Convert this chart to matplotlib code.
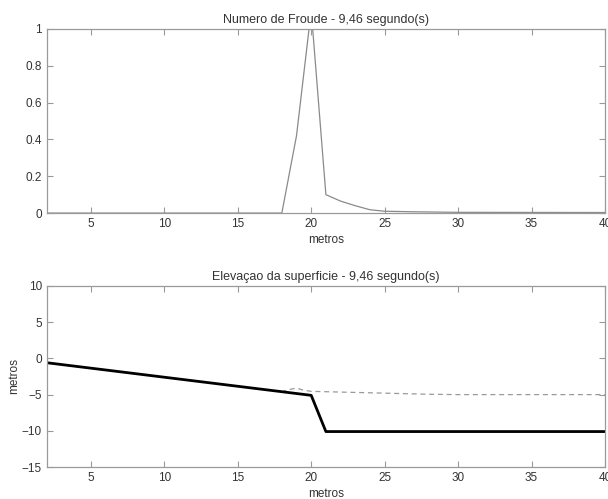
import matplotlib
matplotlib.use("Agg")
import matplotlib.pyplot as plt

## Froude number along the channel
x_froude = [2, 18, 19, 20, 21, 22, 23, 24, 25, 27, 30, 40]
froude = [0, 0, 0.42, 1.1, 0.1, 0.065, 0.04, 0.018, 0.01, 0.007, 0.004, 0.003]

## bed and water surface elevation
x_bed = [2, 20, 21, 40]
z_bed = [-0.6, -5.1, -10.1, -10.1]

x_surf = [2, 18, 18.5, 19, 19.5, 20, 21, 23, 25, 28, 30, 40]
z_surf = [-0.6, -4.6, -4.3, -4.1, -4.4, -4.55, -4.6, -4.7, -4.8, -4.95, -5.0, -5.0]

plt.rcParams["font.family"] = ["Liberation Sans", "DejaVu Sans"]
FS = 8.5

fig = plt.figure(figsize=(6.08, 4.99), dpi=100)
ax1 = fig.add_axes([0.077, 0.573, 0.918, 0.369])
ax2 = fig.add_axes([0.077, 0.064, 0.918, 0.363])


def style(ax):
    for s in ax.spines.values():
        s.set_color("#9a9a9a")
        s.set_linewidth(0.9)
    ax.tick_params(direction="in", top=True, right=True, length=4,
                   color="#9a9a9a", labelcolor="#333333", labelsize=FS)
    ax.set_xlim(2, 40)
    ax.set_xticks([5, 10, 15, 20, 25, 30, 35, 40])
    ax.set_xlabel("metros", fontsize=FS, color="#333333", labelpad=3)


ax1.plot(x_froude, froude, color="#8a8a8a", lw=0.9)
ax1.set_ylim(0, 1)
ax1.set_yticks([0, 0.2, 0.4, 0.6, 0.8, 1])
ax1.set_yticklabels(["0", "0.2", "0.4", "0.6", "0.8", "1"])
ax1.set_title("Numero de Froude - 9,46 segundo(s)", fontsize=9, color="#333333", pad=4)
style(ax1)

ax2.plot(x_surf, z_surf, color="#9a9a9a", lw=0.9, ls=(0, (4, 3)))
ax2.plot(x_bed, z_bed, color="black", lw=2)
ax2.set_ylim(-15, 10)
ax2.set_yticks([-15, -10, -5, 0, 5, 10])
ax2.set_ylabel("metros", fontsize=FS, color="#333333", labelpad=1)
ax2.set_title("Elevaçao da superficie - 9,46 segundo(s)", fontsize=9, color="#333333", pad=4)
style(ax2)

fig.savefig("out.png", dpi=100)
